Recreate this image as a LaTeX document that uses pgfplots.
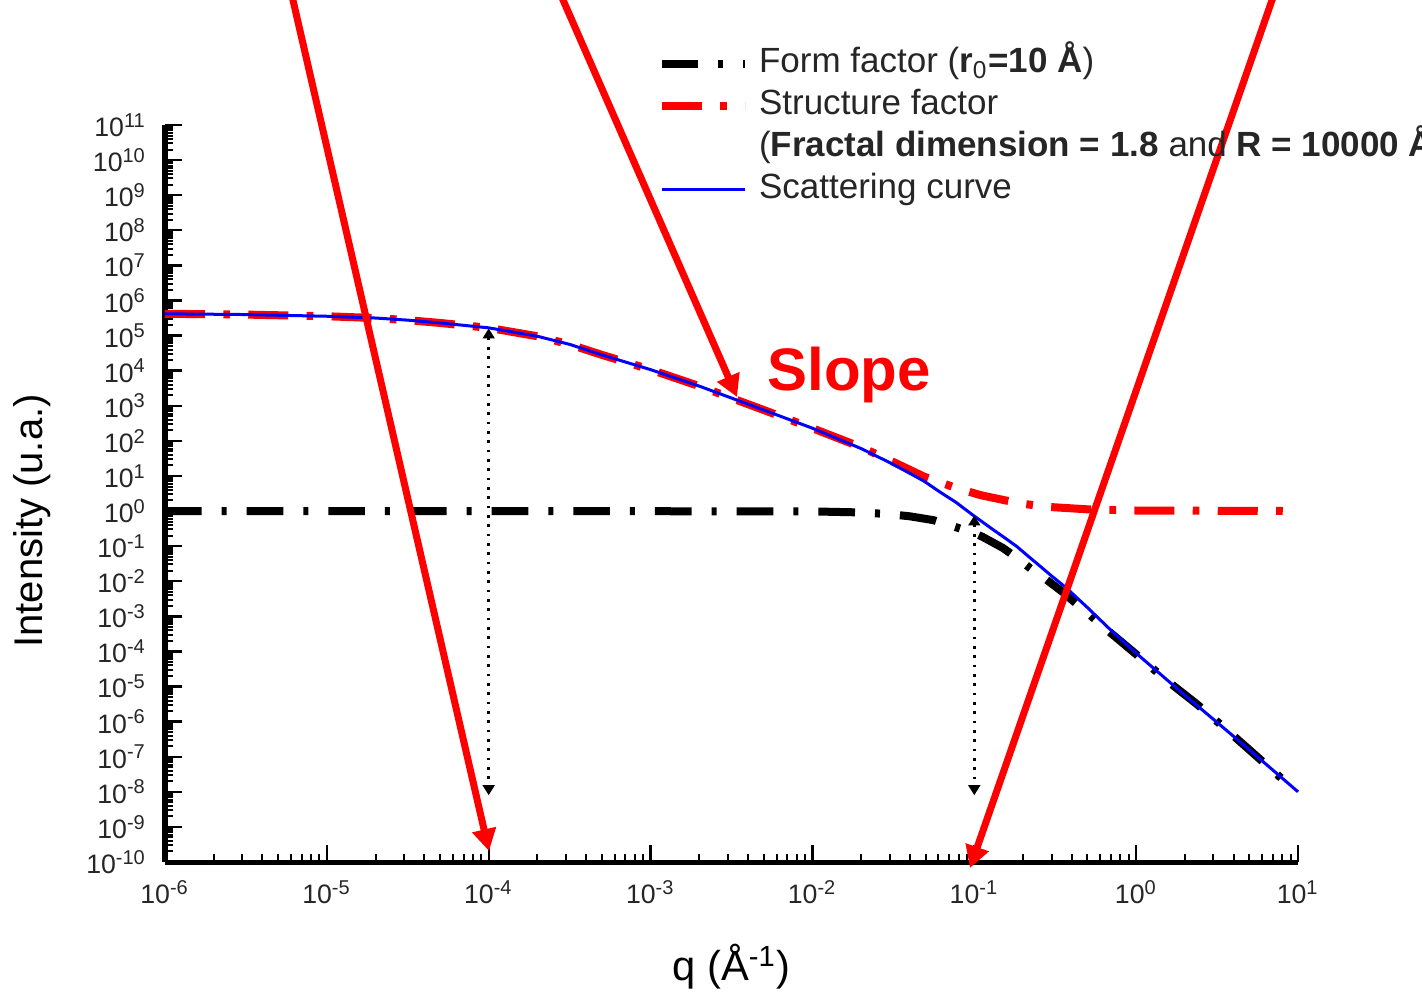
\documentclass[border=0pt]{standalone}
\usepackage{fontspec}
\setmainfont{Liberation Sans}
\usepackage{pgfplots}
\pgfplotsset{compat=1.18}
\usetikzlibrary{arrows.meta}

\definecolor{ffblack}{RGB}{0,0,0}
\definecolor{sfred}{RGB}{255,0,0}
\definecolor{scblue}{RGB}{0,0,255}

\begin{document}
\begin{tikzpicture}
\begin{axis}[
    scale only axis,
    width=339.9pt, height=221.1pt,
    xmode=log, ymode=log,
    xmin=1e-6, xmax=10, ymin=1e-10, ymax=1e11,
    axis lines*=left,
    clip=false,
    tick align=inside,
    major tick length=5pt, minor tick length=2.5pt,
    major tick style={line width=0.7pt, black},
    minor tick style={line width=0.6pt, black},
    x axis line style={line width=1.5pt},
    y axis line style={line width=2pt},
    xtick={1e-6,1e-5,1e-4,1e-3,1e-2,1e-1,1,10},
    xticklabels={10\textsuperscript{-6},10\textsuperscript{-5},10\textsuperscript{-4},10\textsuperscript{-3},10\textsuperscript{-2},10\textsuperscript{-1},10\textsuperscript{0},10\textsuperscript{1}},
    ytick={1e-10,1e-9,1e-8,1e-7,1e-6,1e-5,1e-4,1e-3,1e-2,1e-1,1,1e1,1e2,1e3,1e4,1e5,1e6,1e7,1e8,1e9,1e10,1e11},
    yticklabels={10\textsuperscript{-10},10\textsuperscript{-9},10\textsuperscript{-8},10\textsuperscript{-7},10\textsuperscript{-6},10\textsuperscript{-5},10\textsuperscript{-4},10\textsuperscript{-3},10\textsuperscript{-2},10\textsuperscript{-1},10\textsuperscript{0},10\textsuperscript{1},10\textsuperscript{2},10\textsuperscript{3},10\textsuperscript{4},10\textsuperscript{5},10\textsuperscript{6},10\textsuperscript{7},10\textsuperscript{8},10\textsuperscript{9},10\textsuperscript{10},10\textsuperscript{11}},
    ticklabel style={font=\fontsize{8}{9}\selectfont, text=black!85},
    yticklabel style={xshift=-2pt},
    xticklabel style={yshift=-2pt},
    xlabel={q (Å\textsuperscript{-1})},
    ylabel={Intensity (u.a.)},
    xlabel style={font=\fontsize{12.5}{14}\selectfont, at={(rel axis cs:0.5,-0.1425)}, anchor=center},
    ylabel style={font=\fontsize{12}{14}\selectfont, at={(rel axis cs:-0.1174,0.4627)}, anchor=center, rotate=0},
    legend image code/.code={\draw[#1] (0pt,0pt) -- (25pt,0pt);},
    legend cell align=left,
    legend style={draw=none, fill=none, inner sep=0pt,
        at={(rel axis cs:0.4343,1.109)}, anchor=north west,
        font=\fontsize{10.5}{12}\selectfont, row sep=1.6pt,
        nodes={inner sep=0.5pt, text height=7.8pt, text depth=2.2pt},
        /tikz/every odd column/.append style={column sep=2.5pt},
        text=black!85},
]

% form factor
\addplot[ffblack, line width=2.4pt, dash pattern=on 11pt off 6pt on 1.5pt off 6pt] table {
1e-6   1
1e-4   1
1e-2   0.977
0.02   0.912
0.03   0.813
0.04   0.708
0.056  0.550
0.077  0.347
0.1    0.234
0.113  0.182
0.15   0.0891
0.183  0.0468
0.22   0.0240
0.28   0.01096
0.35   5.01e-3
0.405  2.82e-3
0.5    1.26e-3
0.658  4.17e-4
1.0    8.32e-5
1.5    1.66e-5
2.37   3.16e-6
3.6    6.03e-7
5.0    1.58e-7
7.0    3.98e-8
9.0    1.41e-8
};
\addlegendentry{Form factor (\textbf{r}\textsubscript{0}\textbf{=10 Å})}

% structure factor
\addplot[sfred, line width=2.4pt, dash pattern=on 12pt off 5.5pt on 2pt off 5.5pt] table {
1e-6     4.17e5
3e-6     3.98e5
1e-5     3.55e5
2e-5     3.16e5
3.16e-5  2.75e5
5e-5     2.29e5
1e-4     1.66e5
2e-4     9.55e4
3.16e-4  5.62e4
5e-4     2.82e4
1e-3     1.07e4
2e-3     3.63e3
3.16e-3  1.66e3
5e-3     759
1e-2     229
2e-2     66.1
3.16e-2  25.1
0.049    9.55
0.077    4.57
0.11     2.82
0.19     1.66
0.28     1.32
0.5      1.12
1        1.035
10       1.0
};
\addlegendentry{Structure factor}

\addlegendimage{empty legend}
\addlegendentry{(\textbf{Fractal dimension = 1.8} and \textbf{R = 10000 Å})}

% scattering curve
\addplot[scblue, line width=0.9pt] table {
1e-6     4.17e5
3e-6     3.98e5
1e-5     3.55e5
2e-5     3.16e5
3.16e-5  2.75e5
5e-5     2.29e5
1e-4     1.66e5
2e-4     9.55e4
3.16e-4  5.62e4
5e-4     2.82e4
1e-3     1.07e4
2e-3     3.63e3
3.16e-3  1.66e3
5e-3     759
1e-2     229
2e-2     60.3
3.16e-2  21.4
0.049    7.08
0.061    3.55
0.077    1.78
0.097    0.794
0.13     0.300
0.155    0.170
0.183    0.098
0.215    0.0520
0.25     0.0290
0.30     0.0142
0.37     6.46e-3
0.5      1.78e-3
0.7      3.98e-4
1.0      8.91e-5
2.0      5.62e-6
3.16     9.55e-7
5.0      1.58e-7
10       1e-8
};
\addlegendentry{Scattering curve}

% dotted guides
\draw[black, dotted, line width=0.8pt, {Triangle[length=3pt,width=3.5pt]}-{Triangle[length=3pt,width=3.5pt]}]
    (axis cs:1e-4,1.6e5) -- (axis cs:1e-4,8e-9);
\draw[black, dotted, line width=0.8pt, {Triangle[length=3pt,width=3.5pt]}-{Triangle[length=3pt,width=3.5pt]}]
    (axis cs:0.1,0.75) -- (axis cs:0.1,8e-9);

% red annotation arrows
\draw[sfred, line width=2.1pt, -{Triangle[length=6.6pt,width=7pt]}]
    (rel axis cs:0.1099,1.190) -- (rel axis cs:0.2860,0.0149);
\draw[sfred, line width=2.1pt, -{Triangle[length=6.6pt,width=7pt]}]
    (rel axis cs:0.3455,1.190) -- (rel axis cs:0.5049,0.6309);
\draw[sfred, line width=2.1pt, -{Triangle[length=6.6pt,width=7pt]}]
    (rel axis cs:0.9817,1.190) -- (rel axis cs:0.7105,-0.0081);

\node[sfred, font=\fontsize{18}{20}\selectfont\bfseries] at (rel axis cs:0.6037,0.6608) {Slope};

\coordinate (BL) at (rel axis cs:-0.1456,-0.1764);
\coordinate (TR) at (rel axis cs:1.1094,1.1696);
\end{axis}
\pgfresetboundingbox
\path[use as bounding box] (BL) rectangle (TR);
\end{tikzpicture}
\end{document}
